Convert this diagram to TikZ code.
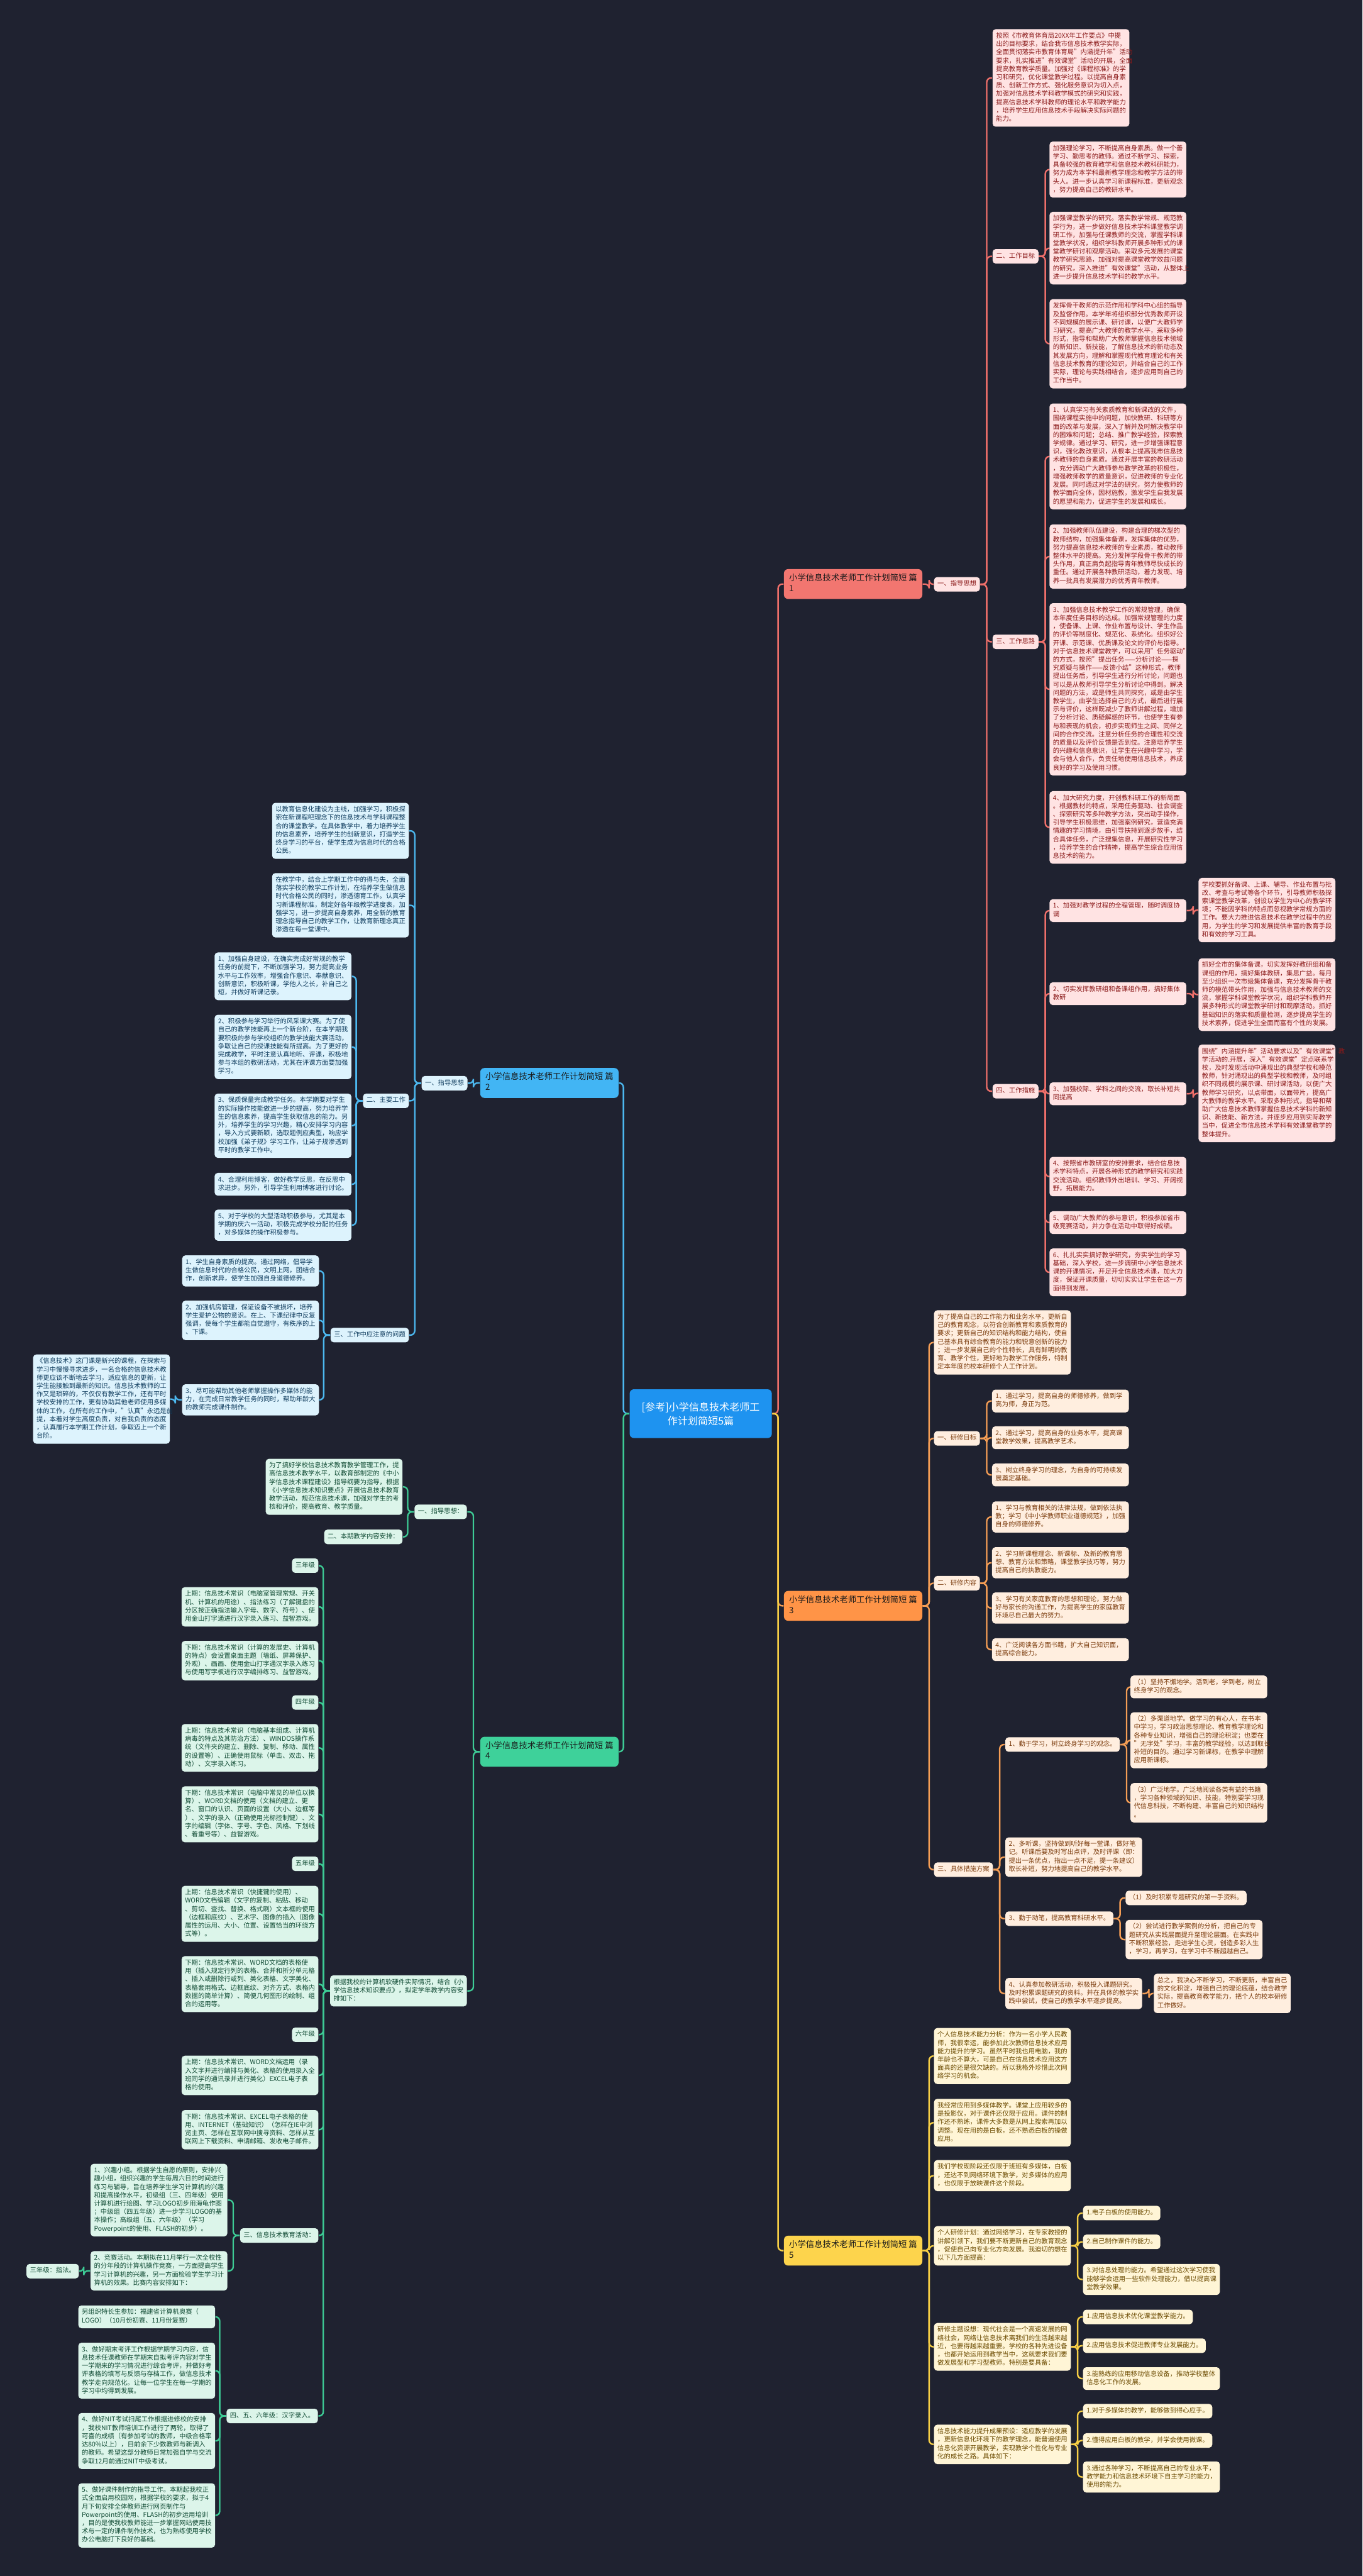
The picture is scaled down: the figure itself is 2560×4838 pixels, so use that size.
\documentclass[tikz,border=0pt]{standalone}
\usepackage{fontspec}
\setmainfont{Noto Sans CJK SC}
\usetikzlibrary{calc}
\definecolor{bgc}{HTML}{1F2230}
\definecolor{cblue}{HTML}{1E93F0}
\definecolor{r1c}{HTML}{F27670}\definecolor{r2c}{HTML}{42B5F4}\definecolor{r3c}{HTML}{FF9447}\definecolor{r4c}{HTML}{3ED19A}\definecolor{r5c}{HTML}{FDD44C}
\definecolor{f1}{HTML}{FFE3E3}\definecolor{t1}{HTML}{8B1A1A}\definecolor{l1}{HTML}{EE6F6A}
\definecolor{f2}{HTML}{DDF3FD}\definecolor{t2}{HTML}{0D3A5C}\definecolor{l2}{HTML}{4CB8EF}
\definecolor{f3}{HTML}{FFEEDF}\definecolor{t3}{HTML}{7A3A0B}\definecolor{l3}{HTML}{F59E55}
\definecolor{f4}{HTML}{DCF5EA}\definecolor{t4}{HTML}{0F4A33}\definecolor{l4}{HTML}{3DCB95}
\definecolor{f5}{HTML}{FFF5D6}\definecolor{t5}{HTML}{6B4A00}\definecolor{l5}{HTML}{F7CF45}
\definecolor{rt}{HTML}{1A1A1A}
\newcommand\lf{\fontsize{3.05pt}{3.9pt}\selectfont}
\newcommand\rf{\fontsize{3.95pt}{5pt}\selectfont}
\newcommand\cf{\fontsize{4.75pt}{6.5pt}\selectfont}
\newcommand\conR[3]{\foreach \cc in {#3}{\draw[#1] (#2.east) -- ++(12,0) |- (\cc.west);}}
\newcommand\conL[3]{\foreach \cc in {#3}{\draw[#1] (#2.west) -- ++(-12,0) |- (\cc.east);}}
\pgfdeclarelayer{bgl}\pgfdeclarelayer{lnl}\pgfsetlayers{bgl,lnl,main}
\tikzset{
 base/.style={rounded corners=1.5pt, inner xsep=1.625pt, inner ysep=1.45pt, font=\lf, align=left, execute at begin node=\strut, execute at end node=\strut},
 leaf/.style={base, text width=61pt},
 lab/.style={base},
 k1/.style={fill=f1,text=t1}, k2/.style={fill=f2,text=t2}, k3/.style={fill=f3,text=t3}, k4/.style={fill=f4,text=t4}, k5/.style={fill=f5,text=t5},
 rootn/.style={rounded corners=2pt, inner xsep=2.4pt, inner ysep=2.1pt, font=\rf, align=left, text=rt, minimum width=65pt, execute at begin node=\strut, execute at end node=\strut},
 e1/.style={draw=l1,line width=0.7pt,rounded corners=2pt},
 e2/.style={draw=l2,line width=0.7pt,rounded corners=2pt},
 e3/.style={draw=l3,line width=0.7pt,rounded corners=2pt},
 e4/.style={draw=l4,line width=0.7pt,rounded corners=2pt},
 e5/.style={draw=l5,line width=0.7pt,rounded corners=2pt},
}
\begin{document}
\begin{tikzpicture}[x=0.25pt,y=-0.25pt]
\begin{pgfonlayer}{bgl}\fill[bgc] (0,0) rectangle (2560,4838);\end{pgfonlayer}
\useasboundingbox (0,0) rectangle (2560,4838);
% center
\node[fill=cblue,text=white,rounded corners=2pt,font=\cf,align=center,minimum width=66.75pt,inner ysep=6pt,inner xsep=2pt] (c) at (1316.5,2655) {[参考]小学信息技术老师工\\作计划简短5篇};
% roots
\node[rootn,fill=r1c,anchor=north west] (R1) at (1472,1068) {小学信息技术老师工作计划简短 篇\\1};
\node[rootn,fill=r3c,anchor=north west] (R3) at (1472,2987) {小学信息技术老师工作计划简短 篇\\3};
\node[rootn,fill=r5c,anchor=north west] (R5) at (1472,4198) {小学信息技术老师工作计划简短 篇\\5};
\node[rootn,fill=r2c,anchor=north east] (R2) at (1163,2005) {小学信息技术老师工作计划简短 篇\\2};
\node[rootn,fill=r4c,anchor=north east] (R4) at (1163,3261) {小学信息技术老师工作计划简短 篇\\4};
% ===== branch 1
\begin{scope}[every node/.append style={k1,anchor=north west}]
\node[lab] (a1) at (1754,1083) {一、指导思想};
\node[leaf] (P1) at (1864,54) {按照《市教育体育局20XX年工作要点》中提\\出的目标要求，结合我市信息技术教学实际，\\全面贯彻落实市教育体育局"内涵提升年"活动\\要求，扎实推进"有效课堂"活动的开展，全面\\提高教育教学质量。加强对《课程标准》的学\\习和研究，优化课堂教学过程。以提高自身素\\质、创新工作方式、强化服务意识为切入点，\\加强对信息技术学科教学模式的研究和实践，\\提高信息技术学科教师的理论水平和教学能力\\，培养学生应用信息技术手段解决实际问题的\\能力。};
\node[lab] (g2) at (1864,467) {二、工作目标};
\node[leaf] (G1) at (1971,265) {加强理论学习，不断提高自身素质。做一个善\\学习、勤思考的教师。通过不断学习、探索，\\具备较强的教育教学和信息技术教科研能力，\\努力成为本学科最新教学理念和教学方法的带\\头人。进一步认真学习新课程标准，更新观念\\，努力提高自己的教研水平。};
\node[leaf] (G2) at (1971,397) {加强课堂教学的研究。落实教学常规、规范教\\学行为，进一步做好信息技术学科课堂教学调\\研工作，加强与任课教师的交流，掌握学科课\\堂教学状况，组织学科教师开展多种形式的课\\堂教学研讨和观摩活动。采取多元发展的课堂\\教学研究思路，加强对提高课堂教学效益问题\\的研究，深入推进"有效课堂"活动，从整体上\\进一步提升信息技术学科的教学水平。};
\node[leaf] (G3) at (1971,561) {发挥骨干教师的示范作用和学科中心组的指导\\及监督作用。本学年将组织部分优秀教师开设\\不同规模的展示课、研讨课，以便广大教师学\\习研究，提高广大教师的教学水平，采取多种\\形式，指导和帮助广大教师掌握信息技术领域\\的新知识、新技能，了解信息技术的新动态及\\其发展方向，理解和掌握现代教育理论和有关\\信息技术教育的理论知识，并结合自己的工作\\实际，理论与实践相结合，逐步应用到自己的\\工作当中。};
\node[lab] (g3) at (1864,1191) {三、工作思路};
\node[leaf] (S1) at (1971,757) {1、认真学习有关素质教育和新课改的文件，\\围绕课程实施中的问题，加快教研、科研等方\\面的改革与发展，深入了解并及时解决教学中\\的困难和问题；总结、推广教学经验，探索教\\学规律。通过学习、研究，进一步增强课程意\\识，强化教改意识，从根本上提高我市信息技\\术教师的自身素质。通过开展丰富的教研活动\\，充分调动广大教师参与教学改革的积极性，\\增强教师教学的质量意识，促进教师的专业化\\发展。同时通过对学法的研究，努力使教师的\\教学面向全体，因材施教，激发学生自我发展\\的愿望和能力，促进学生的发展和成长。};
\node[leaf] (S2) at (1971,984) {2、加强教师队伍建设，构建合理的梯次型的\\教师结构，加强集体备课，发挥集体的优势，\\努力提高信息技术教师的专业素质，推动教师\\整体水平的提高。充分发挥学段骨干教师的带\\头作用，真正肩负起指导青年教师尽快成长的\\重任。通过开展各种教研活动，着力发现、培\\养一批具有发展潜力的优秀青年教师。};
\node[leaf] (S3) at (1971,1132) {3、加强信息技术教学工作的常规管理，确保\\本年度任务目标的达成。加强常规管理的力度\\，使备课、上课、作业布置与设计、学生作品\\的评价等制度化、规范化、系统化。组织好公\\开课、示范课、优质课及论文的评价与指导。\\对于信息技术课堂教学，可以采用"任务驱动"\\的方式，按照"提出任务——分析讨论——探\\究质疑与操作——反馈小结"这种形式，教师\\提出任务后，引导学生进行分析讨论，问题也\\可以是从教师引导学生分析讨论中得到。解决\\问题的方法，或是师生共同探究，或是由学生\\教学生，由学生选择自己的方式，最后进行展\\示与评价，这样既减少了教师讲解过程，增加\\了分析讨论、质疑解惑的环节，也使学生有参\\与和表现的机会，初步实现师生之间、同伴之\\间的合作交流。注意分析任务的合理性和交流\\的质量以及评价反馈是否到位。注意培养学生\\的兴趣和信息意识，让学生在兴趣中学习，学\\会与他人合作，负责任地使用信息技术，养成\\良好的学习及使用习惯。};
\node[leaf] (S4) at (1971,1485) {4、加大研究力度，开创教科研工作的新局面\\。根据教材的特点，采用任务驱动、社会调查\\、探索研究等多种教学方法，突出动手操作，\\引导学生积极思维，加强案例研究，营造充满\\情趣的学习情境，由引导扶持到逐步放手，结\\合具体任务，广泛搜集信息，开展研究性学习\\，培养学生的合作精神，提高学生综合应用信\\息技术的能力。};
\node[lab] (g4) at (1864,2035) {四、工作措施};
\node[leaf] (W1) at (1971,1688) {1、加强对教学过程的全程管理，随时调度协\\调};
\node[leaf] (W1c) at (2251,1648) {学校要抓好备课、上课、辅导、作业布置与批\\改、考查与考试等各个环节，引导教师积极探\\索课堂教学改革，创设以学生为中心的教学环\\境；不能因学科的特点而忽视教学常规方面的\\工作。要大力推进信息技术在教学过程中的应\\用，为学生的学习和发展提供丰富的教育手段\\和有效的学习工具。};
\node[leaf] (W2) at (1971,1844) {2、切实发挥教研组和备课组作用，搞好集体\\教研};
\node[leaf] (W2c) at (2251,1799) {抓好全市的集体备课，切实发挥好教研组和备\\课组的作用，搞好集体教研，集思广益。每月\\至少组织一次市级集体备课，充分发挥骨干教\\师的模范带头作用，加强与信息技术教师的交\\流，掌握学科课堂教学状况，组织学科教师开\\展多种形式的课堂教学研讨和观摩活动。抓好\\基础知识的落实和质量检测，逐步提高学生的\\技术素养，促进学生全面而富有个性的发展。};
\node[leaf] (W3) at (1971,2032) {3、加强校际、学科之间的交流，取长补短共\\同提高};
\node[leaf] (W3c) at (2251,1961) {围绕"内涵提升年"活动要求以及"有效课堂"教\\学活动的.开展，深入"有效课堂"定点联系学\\校，及时发现活动中涌现出的典型学校和模范\\教师，针对涌现出的典型学校和教师，及时组\\织不同规模的展示课、研讨课活动，以便广大\\教师学习研究，以点带面，以面带片，提高广\\大教师的教学水平。采取多种形式，指导和帮\\助广大信息技术教师掌握信息技术学科的新知\\识、新技能、新方法，并逐步应用到实际教学\\当中，促进全市信息技术学科有效课堂教学的\\整体提升。};
\node[leaf] (W4) at (1971,2172) {4、按照省市教研室的安排要求，结合信息技\\术学科特点，开展各种形式的教学研究和实践\\交流活动。组织教师外出培训、学习、开阔视\\野，拓展能力。};
\node[leaf] (W5) at (1971,2274) {5、调动广大教师的参与意识，积极参加省市\\级竞赛活动，并力争在活动中取得好成绩。};
\node[leaf] (W6) at (1971,2344) {6、扎扎实实搞好教学研究，夯实学生的学习\\基础，深入学校，进一步调研中小学信息技术\\课的开课情况，开足开全信息技术课，加大力\\度，保证开课质量，切切实实让学生在这一方\\面得到发展。};
\end{scope}
% ===== branch 3
\begin{scope}[every node/.append style={k3,anchor=north west}]
\node[leaf] (A0) at (1754,2460) {为了提高自己的工作能力和业务水平，更新自\\己的教育观念，以符合创新教育和素质教育的\\要求；更新自己的知识结构和能力结构，使自\\己基本具有综合教育的能力和锐意创新的能力\\；进一步发展自己的个性特长，具有鲜明的教\\育、教学个性，更好地为教学工作服务，特制\\定本年度的校本研修个人工作计划。};
\node[lab] (h1) at (1754,2687) {一、研修目标};
\node[leaf] (T1) at (1863,2609) {1、通过学习，提高自身的师德修养，做到学\\高为师，身正为范。};
\node[leaf] (T2) at (1863,2678) {2、通过学习，提高自身的业务水平，提高课\\堂教学效果，提高教学艺术。};
\node[leaf] (T3) at (1863,2748) {3、树立终身学习的理念，为自身的可持续发\\展奠定基础。};
\node[lab] (h2) at (1754,2959) {二、研修内容};
\node[leaf] (C1) at (1863,2819) {1、学习与教育相关的法律法规，做到依法执\\教；学习《中小学教师职业道德规范》，加强\\自身的师德修养。};
\node[leaf] (C2) at (1863,2905) {2、学习新课程理念、新课标、及新的教育思\\想、教育方法和策略，课堂教学技巧等，努力\\提高自己的执教能力。};
\node[leaf] (C3) at (1863,2990) {3、学习有关家庭教育的思想和理论，努力做\\好与家长的沟通工作，为提高学生的家庭教育\\环境尽自己最大的努力。};
\node[leaf] (C4) at (1863,3076) {4、广泛阅读各方面书籍，扩大自己知识面，\\提高综合能力。};
\node[lab] (h3) at (1754,3497) {三、具体措施方案};
\node[lab] (M1) at (1888,3262) {1、勤于学习，树立终身学习的观念。};
\node[leaf] (M1a) at (2123,3146) {（1）坚持不懈地学。活到老，学到老，树立\\终身学习的观念。};
\node[leaf] (M1b) at (2123,3215) {（2）多渠道地学。做学习的有心人，在书本\\中学习，学习政治思想理论、教育教学理论和\\各种专业知识，增强自己的理论积淀；也要在\\"无字处"学习，丰富的教学经验，以达到取长\\补短的目的。通过学习新课标，在教学中理解\\应用新课标。};
\node[leaf] (M1c) at (2123,3348) {（3）广泛地学。广泛地阅读各类有益的书籍\\，学习各种领域的知识、技能，特别要学习现\\代信息科技，不断构建、丰富自己的知识结构\\。};
\node[leaf] (M2) at (1888,3450) {2、多听课，坚持做到听好每一堂课，做好笔\\记。听课后要及时写出点评，及时评课（即：\\提出一条优点，指出一点不足，提一条建议）\\取长补短，努力地提高自己的教学水平。};
\node[lab] (M3) at (1888,3589) {3、勤于动笔，提高教育科研水平。};
\node[lab] (M3a) at (2114,3550) {（1）及时积累专题研究的第一手资料。};
\node[leaf] (M3b) at (2114,3605) {（2）尝试进行教学案例的分析，把自己的专\\题研究从实践层面提升至理论层面。在实践中\\不断积累经验，走进学生心灵，创造多彩人生\\，学习，再学习，在学习中不断超越自己。};
\node[leaf] (M4) at (1888,3714) {4、认真参加教研活动，积极投入课题研究。\\及时积累课题研究的资料。并在具体的教学实\\践中尝试，使自己的教学水平逐步提高。};
\node[leaf] (M4c) at (2167,3706) {总之，我决心不断学习，不断更新，丰富自己\\的文化积淀，增强自己的理论底蕴，结合教学\\实际，提高教育教学能力，把个人的校本研修\\工作做好。};
\end{scope}
% ===== branch 5
\begin{scope}[every node/.append style={k5,anchor=north west}]
\node[leaf] (F1) at (1754,3808) {个人信息技术能力分析：作为一名小学人民教\\师，我很幸运，能参加此次教师信息技术应用\\能力提升的学习。虽然平时我也用电脑，我的\\年龄也不算大，可是自己在信息技术应用这方\\面真的还是很欠缺的。所以我格外珍惜此次网\\络学习的机会。};
\node[leaf] (F2) at (1754,3941) {我经常应用到多媒体教学。课堂上应用较多的\\是投影仪，对于课件还仅限于应用。课件的制\\作还不熟练，课件大多数是从网上搜索再加以\\调整。现在用的是白板，还不熟悉白板的操做\\应用。};
\node[leaf] (F3) at (1754,4056) {我们学校现阶段还仅限于班班有多媒体，白板\\，还达不到网络环境下教学，对多媒体的应用\\，也仅限于放映课件这个阶段。};
\node[leaf] (F4) at (1754,4180) {个人研修计划：通过网络学习，在专家教授的\\讲解引领下，我们要不断更新自己的教育观念\\，促使自己向专业化方向发展。我迫切的想在\\以下几方面提高：};
\node[lab] (F4a) at (2034,4142) {1.电子白板的使用能力。};
\node[lab] (F4b) at (2034,4196) {2.自己制作课件的能力。};
\node[leaf] (F4c) at (2034,4251) {3.对信息处理的能力。希望通过这次学习使我\\能够学会运用一些软件处理能力，借以提高课\\堂教学效果。};
\node[leaf] (F5) at (1754,4362) {研修主题设想：现代社会是一个高速发展的网\\络社会，网络让信息技术离我们的生活越来越\\近，也要得越来越重要。学校的各种先进设备\\，也都开始运用到教学当中，这就要求我们要\\做发展型和学习型教师。特别是要具备：};
\node[lab] (F5a) at (2034,4337) {1.应用信息技术优化课堂教学能力。};
\node[lab] (F5b) at (2034,4391) {2.应用信息技术促进教师专业发展能力。};
\node[leaf] (F5c) at (2034,4445) {3.能熟练的应用移动信息设备，推动学校整体\\信息化工作的发展。};
\node[leaf] (F6) at (1754,4553) {信息技术能力提升成果预设：适应教学的发展\\，更新信息化环境下的教学理念，能普遍使用\\信息化资源开展教学，实现教学个性化与专业\\化的成长之路。具体如下：};
\node[lab] (F6a) at (2034,4514) {1.对于多媒体的教学，能够做到得心应手。};
\node[lab] (F6b) at (2034,4569) {2.懂得应用白板的教学，并学会使用微课。};
\node[leaf] (F6c) at (2034,4622) {3.通过各种学习，不断提高自己的专业水平，\\教学能力和信息技术环境下自主学习的能力，\\使用的能力。};
\end{scope}
% ===== branch 2
\begin{scope}[every node/.append style={k2,anchor=north east}]
\node[lab] (a2) at (879,2020) {一、指导思想};
\node[leaf] (B1) at (769,1507) {以教育信息化建设为主线，加强学习，积极探\\索在新课程吧理念下的信息技术与学科课程整\\合的课堂教学。在具体教学中，着力培养学生\\的信息素养，培养学生的创新意识，打造学生\\终身学习的平台，使学生成为信息时代的合格\\公民。};
\node[leaf] (B2) at (769,1639) {在教学中，结合上学期工作中的得与失，全面\\落实学校的教学工作计划，在培养学生做信息\\时代合格公民的同时，渗透德育工作。认真学\\习新课程标准，制定好各年级教学进度表，加\\强学习，进一步提高自身素养，用全新的教育\\理念指导自己的教学工作，让教育新理念真正\\渗透在每一堂课中。};
\node[lab] (kk) at (769,2053) {二、主要工作};
\node[leaf] (K1) at (661,1788) {1、加强自身建设，在确实完成好常规的教学\\任务的前提下，不断加强学习，努力提高业务\\水平与工作效率，增强合作意识、奉献意识、\\创新意识，积极听课，学他人之长，补自己之\\短，并做好听课记录。};
\node[leaf] (K2) at (661,1905) {2、积极参与学习举行的风采课大赛。为了使\\自己的教学技能再上一个新台阶，在本学期我\\要积极的参与学校组织的教学技能大赛活动，\\争取让自己的授课技能有所提高。为了更好的\\完成教学，平时注意认真地听、评课，积极地\\参与本组的教研活动，尤其在评课方面要加强\\学习。};
\node[leaf] (K3) at (661,2053) {3、保质保量完成教学任务。本学期要对学生\\的实际操作技能做进一步的提高，努力培养学\\生的信息素养，提高学生获取信息的能力。另\\外，培养学生的学习兴趣，精心安排学习内容\\，导入方式要新颖，选取题例应典型，响应学\\校加强《弟子规》学习工作，让弟子规渗透到\\平时的教学工作中。};
\node[leaf] (K4) at (661,2202) {4、合理利用博客，做好教学反思，在反思中\\求进步。另外，引导学生利用博客进行讨论。};
\node[leaf] (K5) at (661,2271) {5、对于学校的大型活动积极参与，尤其是本\\学期的庆六一活动，积极完成学校分配的任务\\，对多媒体的操作积极参与。};
\node[lab] (qq) at (769,2493) {三、工作中应注意的问题};
\node[leaf] (Q1) at (600,2357) {1、学生自身素质的提高。通过网络，倡导学\\生做信息时代的合格公民，文明上网，团结合\\作，创新求异，使学生加强自身道德修养。};
\node[leaf] (Q2) at (600,2442) {2、加强机房管理，保证设备不被损坏，培养\\学生爱护公物的意识。在上、下课纪律中反复\\强调，使每个学生都能自觉遵守，有秩序的上\\、下课。};
\node[leaf] (Q3) at (600,2599) {3、尽可能帮助其他老师掌握操作多媒体的能\\力，在完成日常教学任务的同时，帮助年龄大\\的教师完成课件制作。};
\node[leaf] (Q3a) at (320,2543) {《信息技术》这门课是新兴的课程，在探索与\\学习中慢慢寻求进步，一名合格的信息技术教\\师更应该不断地去学习，适应信息的更新，让\\学生能接触到最新的知识。信息技术教师的工\\作又是琐碎的，不仅仅有教学工作，还有平时\\学校安排的工作，更有协助其他老师使用多媒\\体的工作，在所有的工作中，"认真"永远是前\\提，本着对学生高度负责，对自我负责的态度\\，认真履行本学期工作计划，争取迈上一个新\\台阶。};
\end{scope}
% ===== branch 4
\begin{scope}[every node/.append style={k4,anchor=north east}]
\node[lab] (a4) at (878,2825) {一、指导思想：};
\node[leaf] (D1) at (757,2739) {为了搞好学校信息技术教育教学管理工作，提\\高信息技术教学水平，以教育部制定的《中小\\学信息技术课程建设》指导纲要为指导，根据\\《小学信息技术知识要点》开展信息技术教育\\教学活动，规范信息技术课，加强对学生的考\\核和评价，提高教育、教学质量。};
\node[lab] (d2) at (757,2872) {二、本期教学内容安排：};
\node[leaf] (Rb) at (878,3709) {根据我校的计算机软硬件实际情况，结合《小\\学信息技术知识要点》，拟定学年教学内容安\\排如下：};
\node[lab] (y3) at (599,2926) {三年级};
\node[leaf] (U1) at (599,2980) {上期：信息技术常识（电脑室管理常规、开关\\机、计算机的用途）、指法练习（了解键盘的\\分区按正确指法输入字母、数字、符号）、使\\用金山打字通进行汉字录入练习、益智游戏。};
\node[leaf] (U2) at (599,3081) {下期：信息技术常识（计算的发展史、计算机\\的特点）会设置桌面主题（墙纸、屏幕保护、\\外观）、画画、使用金山打字通汉字录入练习\\与使用写字板进行汉字编排练习、益智游戏。};
\node[lab] (y4) at (599,3183) {四年级};
\node[leaf] (U3) at (599,3237) {上期：信息技术常识（电脑基本组成、计算机\\病毒的特点及其防治方法）、WINDOS操作系\\统（文件夹的建立、删除、复制、移动、属性\\的设置等）、正确使用鼠标（单击、双击、拖\\动）、文字录入练习。};
\node[leaf] (U4) at (599,3354) {下期：信息技术常识（电脑中常见的单位以换\\算）、WORD文档的使用（文档的建立、更\\名、窗口的认识、页面的设置（大小、边框等\\）、文字的录入（正确使用光标控制键）、文\\字的编辑（字体、字号、字色、风格、下划线\\、着重号等）、益智游戏。};
\node[lab] (y5) at (599,3486) {五年级};
\node[leaf] (U5) at (599,3541) {上期：信息技术常识（快捷键的使用）、\\WORD文档编辑（文字的复制、粘贴、移动\\、剪切、查找、替换、格式刷）文本框的使用\\（边框和底纹）、艺术字、图像的插入（图像\\属性的运用、大小、位置、设置恰当的环绕方\\式等）。};
\node[leaf] (U6) at (599,3673) {下期：信息技术常识、WORD文档的表格使\\用（插入规定行列的表格、合并和折分单元格\\、插入或删除行或列、美化表格、文字美化、\\表格套用格式、边框底纹、对齐方式、表格内\\数据的简单计算）、简便几何图形的绘制、组\\合的运用等。};
\node[lab] (y6) at (599,3807) {六年级};
\node[leaf] (U7) at (599,3860) {上期：信息技术常识、WORD文档运用（录\\入文字并进行编排与美化、表格的使用录入全\\班同学的通讯录并进行美化）EXCEL电子表\\格的使用。};
\node[leaf] (U8) at (599,3962) {下期：信息技术常识、EXCEL电子表格的使\\用、INTERNET（基础知识）（怎样在IE中浏\\览主页、怎样在互联网中搜寻资料、怎样从互\\联网上下载资料、申请邮箱、发收电子邮件。};
\node[lab] (vv) at (599,4184) {三、信息技术教育活动：};
\node[leaf] (V1) at (428,4063) {1、兴趣小组。根据学生自愿的原则，安排兴\\趣小组，组织兴趣的学生每周六日的时间进行\\练习与辅导，旨在培养学生学习计算机的兴趣\\和提高操作水平，初级组（三、四年级）使用\\计算机进行绘图、学习LOGO初步用海龟作图\\；中级组（四五年级）进一步学习LOGO的基\\本操作；高级组（五、六年级）（学习\\Powerpoint的使用、FLASH的初步）。};
\node[leaf] (V2) at (428,4227) {2、竞赛活动。本期拟在11月举行一次全校性\\的分年段的计算机操作竞赛，一方面提高学生\\学习计算机的兴趣，另一方面检验学生学习计\\算机的效果。比赛内容安排如下：};
\node[lab] (V2c) at (149,4251) {三年级：指法。};
\node[lab] (xx) at (598,4523) {四、五、六年级：汉字录入。};
\node[leaf] (X1) at (405,4329) {另组织特长生参加：福建省计算机奥赛（\\LOGO）（10月份初赛、11月份复赛）};
\node[leaf] (X2) at (405,4399) {3、做好期末考评工作根据学期学习内容，信\\息技术任课教师在学期末自拟考评内容对学生\\一学期来的学习情况进行综合考评，并做好考\\评表格的填写与反馈与存档工作，做信息技术\\教学走向规范化。让每一位学生在每一学期的\\学习中均得到发展。};
\node[leaf] (X3) at (405,4531) {4、做好NIT考试扫尾工作根据进修校的安排\\，我校NIT教师培训工作进行了两轮，取得了\\可喜的成绩（有参加考试的教师，中级合格率\\达80\%以上），目前余下少数教师与新调入\\的教师。希望这部分教师日常加强自学与交流\\争取12月前通过NIT中级考试。};
\node[leaf] (X4) at (405,4663) {5、做好课件制作的指导工作。本期起我校正\\式全面启用校园网，根据学校的要求，拟于4\\月下旬安排全体教师进行网页制作与\\Powerpoint的使用、FLASH的初步运用培训\\，目的是使我校教师能进一步掌握网站使用技\\术与一定的课件制作技术，也为熟练使用学校\\办公电脑打下良好的基础。};
\end{scope}
% ===== connectors
\begin{pgfonlayer}{lnl}
\draw[e1] (c.east) -- ++(11,0) |- (R1.west);
\draw[e3] (c.east) -- ++(11,0) |- (R3.west);
\draw[e5] (c.east) -- ++(11,0) |- (R5.west);
\draw[e2] (c.west) -- ++(-11,0) |- (R2.east);
\draw[e4] (c.west) -- ++(-11,0) |- (R4.east);
\conR{e1}{R1}{a1}
\conR{e1}{a1}{P1,g2,g3,g4}
\conR{e1}{g2}{G1,G2,G3}
\conR{e1}{g3}{S1,S2,S3,S4}
\conR{e1}{g4}{W1,W2,W3,W4,W5,W6}
\conR{e1}{W1}{W1c}\conR{e1}{W2}{W2c}\conR{e1}{W3}{W3c}
\conR{e3}{R3}{A0,h1,h2,h3}
\conR{e3}{h1}{T1,T2,T3}
\conR{e3}{h2}{C1,C2,C3,C4}
\conR{e3}{h3}{M1,M2,M3,M4}
\conR{e3}{M1}{M1a,M1b,M1c}
\conR{e3}{M3}{M3a,M3b}
\conR{e3}{M4}{M4c}
\conR{e5}{R5}{F1,F2,F3,F4,F5,F6}
\conR{e5}{F4}{F4a,F4b,F4c}
\conR{e5}{F5}{F5a,F5b,F5c}
\conR{e5}{F6}{F6a,F6b,F6c}
\conL{e2}{R2}{a2}
\conL{e2}{a2}{B1,B2,kk,qq}
\conL{e2}{kk}{K1,K2,K3,K4,K5}
\conL{e2}{qq}{Q1,Q2,Q3}
\conL{e2}{Q3}{Q3a}
\conL{e4}{R4}{a4,Rb}
\conL{e4}{a4}{D1,d2}
\conL{e4}{Rb}{y3,U1,U2,y4,U3,U4,y5,U5,U6,y6,U7,U8,vv,xx}
\conL{e4}{vv}{V1,V2}
\conL{e4}{V2}{V2c}
\conL{e4}{xx}{X1,X2,X3,X4}
\end{pgfonlayer}
\end{tikzpicture}
\end{document}
